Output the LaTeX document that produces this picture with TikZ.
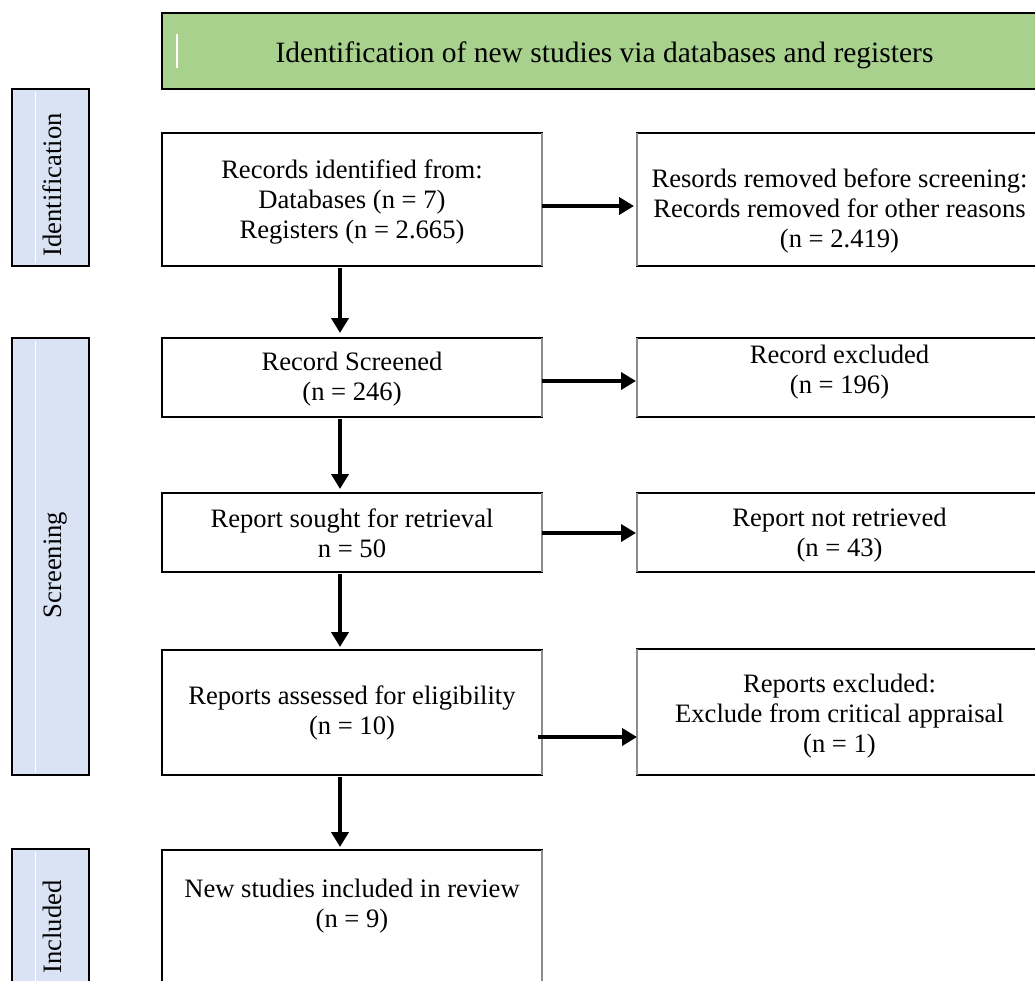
\documentclass[tikz,border=0pt]{standalone}
\usepackage{fontspec}
\setmainfont{Liberation Serif}
\usetikzlibrary{arrows.meta,calc}
\definecolor{hdrgreen}{RGB}{169,209,142}
\definecolor{sideblue}{RGB}{218,227,243}
\definecolor{edgegray}{RGB}{140,140,140}
\begin{document}
\begin{tikzpicture}[x=1pt,y=-1pt,
  box/.style={draw=black, line width=1.3pt, fill=white, inner sep=0pt, outer sep=0pt},
  sidebox/.style={draw=black, line width=1.3pt, fill=sideblue, inner sep=0pt, outer sep=0pt, minimum width=77pt},
  hdr/.style={draw=black, line width=1.3pt, fill=hdrgreen, inner sep=0pt, outer sep=0pt},
  txt/.style={align=center, font=\fontsize{26.6}{30}\selectfont, inner sep=0pt},
  hdrtxt/.style={font=\fontsize{29.5}{34}\selectfont, inner sep=0pt},
  sidetxt/.style={font=\fontsize{26.6}{30}\selectfont, inner sep=0pt, rotate=90, anchor=base},
  arr/.style={line width=4pt, -{Triangle[length=15pt,width=17pt]}},
  grayedge/.style={draw=edgegray, line width=1.3pt}
]
\useasboundingbox (0,0) rectangle (1035,981);
\clip (0,0) rectangle (1035,981);

% header
\node[hdr, minimum width=886pt, minimum height=76pt] (hd) at (605,51) {};
\draw[white, line width=1.5pt] ($(hd.north west)+(15,21)$) coordinate (hw1) -- ($(hd.north west)+(15,55)$) coordinate (hw2);
\node[hdrtxt] (hdt) at (604.5,55) {Identification of new studies via databases and registers};

% side labels
\node[sidebox, minimum height=177pt] (s1) at (50.5,177.5) {};
\node[sidebox, minimum height=437pt] (s2) at (50.5,556.5) {};
\node[sidebox, minimum height=151pt] (s3) at (50.5,924.5) {};
\foreach \s in {s1,s2,s3}{
  \draw[white, line width=1pt] ($(\s.north west)+(23,3)$) -- ($(\s.south west)+(23,-3)$);
}
\node[sidetxt] (s1t) at (61,185) {Identification};
\node[sidetxt] (s2t) at (61,565) {Screening};
\node[sidetxt] (s3t) at (61,927) {Included};

% left column boxes
\node[box, minimum width=380pt, minimum height=133pt] (b1) at (352,199.5) {};
\node[box, minimum width=380pt, minimum height=79pt]  (b2) at (352,377.5) {};
\node[box, minimum width=380pt, minimum height=79pt]  (b3) at (352,532.5) {};
\node[box, minimum width=380pt, minimum height=125pt] (b4) at (352,712.5) {};
\node[box, minimum width=380pt, minimum height=150pt] (b5) at (352,925) {};

% right column boxes
\node[box, minimum width=403pt, minimum height=133pt] (r1) at (838.5,199.5) {};
\node[box, minimum width=403pt, minimum height=79pt]  (r2) at (838.5,377.5) {};
\node[box, minimum width=403pt, minimum height=79pt]  (r3) at (838.5,532.5) {};
\node[box, minimum width=403pt, minimum height=126pt] (r4) at (838.5,712) {};

% gray edges (scan artefacts)
\foreach \b in {b1,b2,b3,b4,b5}{
  \draw[grayedge] (\b.north east) -- (\b.south east);
}
\foreach \b in {r1,r2,r3,r4}{
  \draw[grayedge] (\b.north west) -- (\b.south west);
}

% texts
\node[txt] (b1t) at (352,202.5) {Records identified from:\\Databases (n = 7)\\Registers (n = 2.665)};
\node[txt] (b2t) at (352,379) {Record Screened\\(n = 246)};
\node[txt] (b3t) at (352,533) {Report sought for retrieval\\n = 50};
\node[txt] (b4t) at (352,713) {Reports assessed for eligibility\\(n = 10)};
\node[txt] (b5t) at (352,906) {New studies included in review\\(n = 9)};
\node[txt] (r1t) at (839.5,210.5) {Resords removed before screening:\\Records removed for other reasons\\(n = 2.419)};
\node[txt] (r2t) at (839.5,372) {Record excluded\\(n = 196)};
\node[txt] (r3t) at (839.5,535) {Report not retrieved\\(n = 43)};
\node[txt] (r4t) at (839.5,716.5) {Reports excluded:\\Exclude from critical appraisal\\(n = 1)};

% arrows
\coordinate (vx) at (340,0);
\draw[arr, shorten <=2pt, shorten >=5pt] (b1.south -| vx) -- (b2.north -| vx);
\draw[arr, shorten <=2pt, shorten >=4pt] (b2.south -| vx) -- (b3.north -| vx);
\draw[arr, shorten <=2pt, shorten >=3pt] (b3.south -| vx) -- (b4.north -| vx);
\draw[arr, shorten <=2pt, shorten >=3pt] (b4.south -| vx) -- (b5.north -| vx);

\coordinate (h1) at (0,206);
\coordinate (h2) at (0,381);
\coordinate (h3) at (0,533);
\coordinate (h4) at (0,737);
\draw[arr, shorten >=3pt] (b1.east |- h1) -- (r1.west |- h1);
\draw[arr, shorten >=1pt] (b2.east |- h2) -- (r2.west |- h2);
\draw[arr, shorten >=1pt] (b3.east |- h3) -- (r3.west |- h3);
\draw[arr, shorten >=0pt] ($(b4.east |- h4)+(-4,0)$) -- (r4.west |- h4);
\end{tikzpicture}
\end{document}
